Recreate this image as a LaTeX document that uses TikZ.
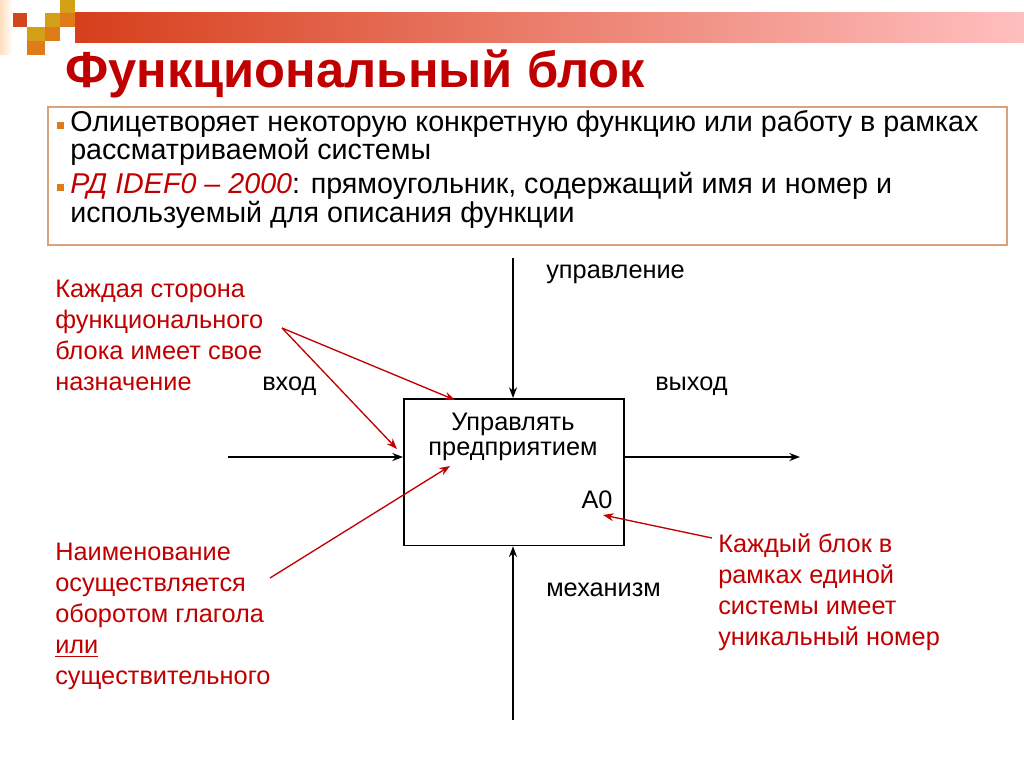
\documentclass[tikz,border=0pt]{standalone}
\usepackage{fontspec}
\setmainfont{Liberation Sans}
\usetikzlibrary{arrows.meta}
\definecolor{dred}{HTML}{C00000}
\definecolor{gold}{HTML}{D4A017}
\definecolor{orng}{HTML}{E07B1A}
\definecolor{rorng}{HTML}{D2461E}
\definecolor{boxb}{HTML}{D8A27A}
\begin{document}
\begin{tikzpicture}[x=0.75pt,y=-0.75pt,
  lbl/.style={inner sep=0pt,font=\fontsize{19}{22}\selectfont},
  ann/.style={lbl,text=dred,align=left,font=\fontsize{19}{23.3}\selectfont},
  blk/.style={-{Stealth[length=8pt,width=6pt]},line width=1.2pt},
  rar/.style={-{Stealth[length=8pt,width=6pt]},line width=1pt,draw=dred}]
\useasboundingbox (0,0) rectangle (1024,767);
% decoration
\shade[left color=orange!25,right color=white] (0,0) rectangle (13,55);
\shade[left color=rorng!90!red,right color=red!25!white] (75,13) rectangle (1024,43);
\fill[gold] (60,0) rectangle (75,13);
\fill[rorng] (13,13) rectangle (27,27);
\fill[gold] (45,13) rectangle (60,27);
\fill[orng] (60,13) rectangle (75,27);
\fill[gold] (27,27) rectangle (45,41);
\fill[orng] (45,27) rectangle (60,41);
\fill[orng] (27,41) rectangle (45,55);
% title
\node[anchor=base west,inner sep=0pt,text=dred,font=\fontsize{38}{44}\selectfont\bfseries] (title) at (65,88) {Функциональный блок};
% text box
\draw[boxb,line width=1pt] (48,107) rectangle (1007,245);
\fill[orng] (57,122) rectangle (64,129);
\fill[orng] (57,184) rectangle (64,191);
\node[anchor=north west,inner sep=0pt,align=left,font=\fontsize{21.5}{21.5}\selectfont] (b1) at (70,110)
 {Олицетворяет некоторую конкретную функцию или работу в рамках\\рассматриваемой системы};
\node[anchor=north west,inner sep=0pt,align=left,font=\fontsize{21.5}{21.5}\selectfont] (b2) at (70,172)
 {\textcolor{dred}{\itshape РД IDEF0 – 2000}: прямоугольник, содержащий имя и номер и\\используемый для описания функции};
% block
\node[draw,line width=1.2pt,minimum width=165pt,minimum height=110pt,anchor=north west,inner sep=0pt] (box) at (403,398) {};
\coordinate (ctop) at (513,258);
\coordinate (mbot) at (513,720);
\coordinate (inl) at (228,457);
\coordinate (outr) at (800,457);
\draw[blk] (ctop) -- (ctop|-box.north);
\draw[blk] (mbot) -- (mbot|-box.south);
\draw[blk] (inl) -- (inl-|box.west);
\draw[blk] (outr-|box.east) -- (outr);
\node[lbl] (t1) at (513,424) {Управлять};
\node[lbl] (t2) at (513,451) {предприятием};
\node[lbl] (a0) at (597,500) {A0};
\node[lbl,anchor=west] (upr) at (546,274) {управление};
\node[lbl,anchor=west] (vh) at (262,386) {вход};
\node[lbl,anchor=west] (vyh) at (655,386) {выход};
\node[lbl,anchor=west] (meh) at (546,590) {механизм};
% annotations
\node[ann,anchor=north west] (n1) at (55,280) {Каждая сторона\\функционального\\блока имеет свое\\назначение};
\node[ann,anchor=north west] (n2) at (55,543) {Наименование\\осуществляется\\оборотом глагола\\\underline{или}\\существительного};
\node[ann,anchor=north west] (n3) at (718,533) {Каждый блок в\\рамках единой\\системы имеет\\уникальный номер};
\coordinate (s1) at (282,328);
\coordinate (s2) at (270,578);
\coordinate (s3) at (712,538);
\coordinate (e1) at (455,400);
\coordinate (e2) at (397,449);
\coordinate (e3) at (450,466);
\coordinate (e4) at (603,515);
\draw[rar] (s1) -- (e1);
\draw[rar] (s1) -- (e2);
\draw[rar] (s2) -- (e3);
\draw[rar] (s3) -- (e4);
\end{tikzpicture}
\end{document}
